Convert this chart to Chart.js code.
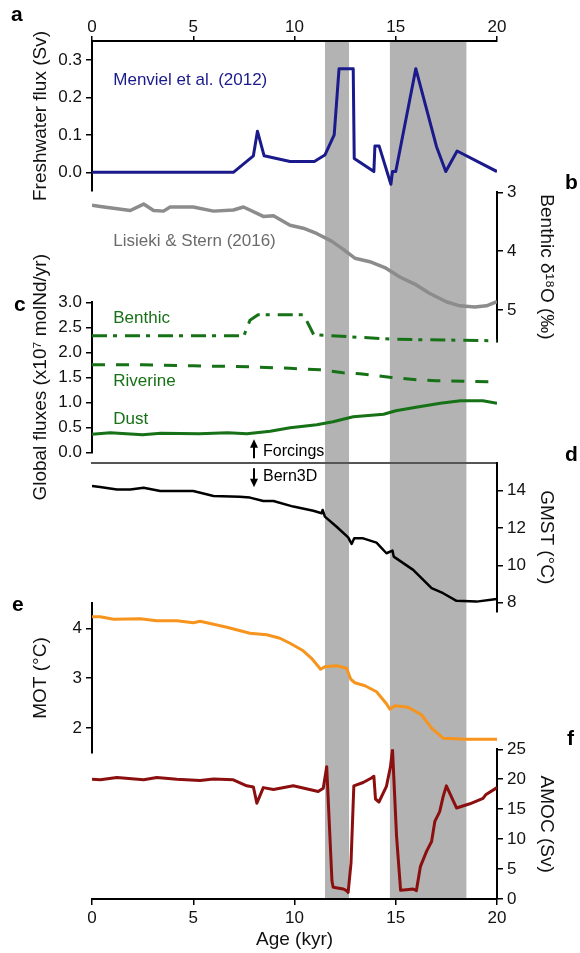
<!DOCTYPE html>
<html>
<head>
<meta charset="utf-8">
<script src="https://cdn.jsdelivr.net/npm/chart.js@4.4.1/dist/chart.umd.min.js"></script>
<style>
html,body{margin:0;padding:0;background:#fff}
#fig{position:relative;width:580px;height:953px;overflow:hidden}
#fig canvas{position:absolute;left:0;top:0}
.tag{position:absolute;font:bold 21px "Liberation Sans",Arial,sans-serif;line-height:21px;color:#000}
</style>
</head>
<body>
<div id="fig">
  <canvas id="bands" width="580" height="953"></canvas>
  <canvas id="pa" width="580" height="953"></canvas>
  <canvas id="pb" width="580" height="953"></canvas>
  <canvas id="pc" width="580" height="953"></canvas>
  <canvas id="pd" width="580" height="953"></canvas>
  <canvas id="pe" width="580" height="953"></canvas>
  <canvas id="pf" width="580" height="953"></canvas>
  <div class="tag" style="left:11px;top:3px">a</div>
  <div class="tag" style="left:565px;top:171px">b</div>
  <div class="tag" style="left:14px;top:293px">c</div>
  <div class="tag" style="left:565px;top:443px">d</div>
  <div class="tag" style="left:12px;top:593px">e</div>
  <div class="tag" style="left:567px;top:727px">f</div>
</div>
<script>
// ---- data (ages in kyr) ----
const ageTicks = [0, 5, 10, 15, 20];
const bandStart = [11.5, 14.7];
const bandEnd = [12.7, 18.5];

// a: freshwater flux, Menviel et al. (2012)
const fwAge = [0, 6.98, 7.97, 8.17, 8.5, 9.78, 10.98, 11.5, 11.96, 12.2, 12.9, 12.95, 13.92, 13.97, 14.18, 14.76, 14.84, 15.0, 15.99, 17.01, 17.47, 18.03, 20];
const fwFlux = [0, 0, 0.044, 0.11, 0.044, 0.029, 0.029, 0.046, 0.1, 0.277, 0.277, 0.037, 0.002, 0.07, 0.07, -0.032, 0.002, 0.002, 0.277, 0.069, 0.002, 0.057, 0.002];
const fwTicks = [0, 0.1, 0.2, 0.3];

// b: benthic d18O, Lisiecki & Stern (2016)
const d18Age = [0, 0.41, 1.89, 2.55, 3.04, 3.53, 3.86, 5.0, 6.0, 6.98, 7.48, 8.46, 8.96, 9.78, 10.43, 11.09, 11.83, 12.41, 12.98, 13.72, 14.46, 15.2, 15.94, 16.68, 17.5, 18.16, 18.9, 19.48, 20];
const d18O = [3.22, 3.24, 3.31, 3.20, 3.31, 3.32, 3.25, 3.25, 3.32, 3.30, 3.25, 3.41, 3.40, 3.56, 3.61, 3.70, 3.83, 3.97, 4.12, 4.18, 4.28, 4.44, 4.56, 4.72, 4.86, 4.93, 4.95, 4.93, 4.86];
const d18Ticks = [3, 4, 5];

// c: global Nd fluxes
const benthicAge = [0, 7.5, 7.8, 8.2, 10.45, 10.7, 10.95, 15, 20];
const benthicFlux = [2.33, 2.33, 2.64, 2.75, 2.75, 2.55, 2.35, 2.26, 2.23];
const riverineAge = [0, 2.5, 5, 7.8, 9.78, 11.26, 12.4, 13.23, 14.7, 16.02, 17.0, 20];
const riverineFlux = [1.75, 1.75, 1.73, 1.71, 1.68, 1.65, 1.59, 1.57, 1.5, 1.45, 1.43, 1.41];
const dustAge = [0, 0.9, 2.5, 3.4, 5.3, 6.7, 7.65, 8.8, 9.78, 11.1, 11.9, 12.9, 14.4, 15.0, 16.0, 17.2, 18.2, 19.3, 20];
const dustFlux = [0.36, 0.39, 0.35, 0.38, 0.37, 0.39, 0.37, 0.42, 0.49, 0.55, 0.61, 0.71, 0.76, 0.83, 0.9, 0.98, 1.03, 1.03, 0.98];
const fluxTicks = [0, 0.5, 1, 1.5, 2, 2.5, 3];

// d: global mean surface temperature
const gmstAge = [0, 0.4, 1.23, 1.89, 2.55, 3.37, 5.0, 6.0, 7.3, 7.8, 8.46, 8.96, 9.94, 10.93, 11.34, 11.39, 11.5, 12.08, 12.65, 12.82, 12.95, 13.39, 14.05, 14.54, 14.84, 14.9, 15.86, 16.77, 17.34, 18.0, 18.99, 19.89, 20];
const gmst = [14.25, 14.2, 14.07, 14.07, 14.16, 13.98, 13.98, 13.72, 13.68, 13.63, 13.45, 13.45, 13.15, 12.93, 12.79, 12.97, 12.61, 12.07, 11.5, 11.15, 11.45, 11.45, 11.22, 10.65, 10.79, 10.47, 9.76, 8.78, 8.51, 8.1, 8.06, 8.19, 8.2];
const gmstTicks = [8, 10, 12, 14];

// e: mean ocean temperature
const motAge = [0, 0.4, 1.07, 2.38, 3.2, 4.19, 5.0, 5.34, 6.66, 7.8, 8.63, 9.28, 9.78, 10.43, 10.84, 11.29, 11.5, 12.08, 12.57, 12.78, 12.98, 13.48, 14.05, 14.54, 14.71, 14.96, 15.61, 16.27, 16.77, 17.34, 18.49, 20];
const mot = [4.23, 4.23, 4.18, 4.19, 4.15, 4.15, 4.11, 4.14, 4.02, 3.9, 3.87, 3.8, 3.7, 3.55, 3.4, 3.18, 3.23, 3.25, 3.2, 2.98, 2.91, 2.85, 2.73, 2.49, 2.38, 2.45, 2.42, 2.27, 2.0, 1.8, 1.78, 1.78];
const motTicks = [2, 3, 4];

// f: AMOC strength
const amocAge = [0, 0.41, 1.23, 2.55, 3.2, 4.19, 5.34, 6.0, 6.98, 7.64, 7.97, 8.14, 8.46, 8.96, 9.94, 11.17, 11.42, 11.59, 11.85, 11.91, 12.41, 12.57, 12.65, 12.79, 12.93, 13.39, 13.8, 13.92, 14.0, 14.17, 14.54, 14.74, 14.84, 15.04, 15.24, 15.53, 15.86, 16.02, 16.22, 16.52, 16.77, 16.93, 17.17, 17.34, 17.5, 18.0, 18.66, 19.31, 19.44, 20];
const amoc = [20.0, 19.9, 20.3, 19.9, 20.3, 20.0, 19.8, 20.05, 19.9, 18.9, 18.7, 16.0, 18.6, 18.3, 18.9, 17.95, 18.5, 22.1, 3.0, 1.95, 1.67, 1.4, 1.1, 6.0, 18.9, 19.45, 20.2, 20.5, 16.7, 16.2, 18.8, 22.1, 24.95, 10.45, 1.45, 1.55, 1.67, 1.4, 5.45, 7.95, 9.6, 12.95, 14.6, 17.1, 18.9, 15.2, 15.9, 16.8, 17.4, 18.6];
const amocTicks = [0, 5, 10, 15, 20, 25];

// ---- drawing ----
const W = 580, H = 953, PL = 92, PR = 497;
const FONT = '"Liberation Sans", Arial, sans-serif';
Chart.defaults.font.family = FONT;
Chart.defaults.color = '#111';

const navy = '#1a1a8c', green = '#177117', grey = '#8c8c8c', orange = '#f7941d', darkred = '#8b0f0f';

function pts(xs, ys){ return xs.map((x, i) => ({x, y: ys[i]})); }
function line(xs, ys, color, width, dash){
  return {data: pts(xs, ys), borderColor: color, borderWidth: width, borderDash: dash || [],
    pointRadius: 0, tension: 0, fill: false, borderJoinStyle: 'round'};
}
function ticksOf(arr){ return s => { s.ticks = arr.map(value => ({value})); }; }

function notes(items){
  return {id: 'notes', afterDatasetsDraw(chart){
    const {ctx, scales: {x, y}} = chart;
    ctx.save();
    ctx.textAlign = 'left'; ctx.textBaseline = 'middle';
    items.forEach(n => {
      ctx.font = (n.size || 17) + 'px ' + FONT;
      ctx.fillStyle = n.color;
      ctx.fillText(n.text, x.getPixelForValue(n.x), y.getPixelForValue(n.y));
    });
    ctx.restore();
  }};
}

function arrow(ctx, x, y0, y1){
  const dir = Math.sign(y1 - y0);
  ctx.beginPath(); ctx.moveTo(x, y0); ctx.lineTo(x, y1 - dir * 7); ctx.stroke();
  ctx.beginPath(); ctx.moveTo(x, y1); ctx.lineTo(x - 4, y1 - dir * 8.5); ctx.lineTo(x + 4, y1 - dir * 8.5); ctx.closePath(); ctx.fill();
}
const forcings = {id: 'forcings', afterDraw(chart){
  const {ctx, chartArea: {top}, scales: {x}} = chart;
  const ax = x.getPixelForValue(8.0);
  ctx.save();
  ctx.strokeStyle = ctx.fillStyle = '#000'; ctx.lineWidth = 2;
  arrow(ctx, ax, top - 4.5, top - 23.5);
  arrow(ctx, ax, top + 5.5, top + 24.5);
  ctx.font = '16px ' + FONT; ctx.textAlign = 'left'; ctx.textBaseline = 'middle';
  ctx.fillText('Forcings', ax + 9, top - 11.5);
  ctx.fillText('Bern3D', ax + 9, top + 13.5);
  ctx.restore();
}};

function xAxis(kind, size){
  const base = {type: 'linear', min: 0, max: 20, bounds: 'data'};
  if (!kind) return {...base, display: false};
  if (kind === 'line') return {...base, position: 'top', afterFit: s => { s.height = 0; },
    ticks: {display: false}, grid: {drawOnChartArea: false, drawTicks: false},
    border: {display: true, color: '#555', width: 2}};
  return {...base, position: kind, afterFit: s => { s.height = size; }, afterBuildTicks: ticksOf(ageTicks),
    ticks: {font: {size: 17}, color: '#111', padding: kind === 'top' ? -2 : 3, maxRotation: 0, autoSkip: false},
    grid: {drawOnChartArea: false, tickLength: kind === 'top' ? 5 : 6, color: '#000', lineWidth: 1.5},
    border: {display: true, color: '#000', width: 2},
    title: {display: kind === 'bottom', text: 'Age (kyr)', font: {size: 19}, color: '#111', padding: {top: 0, bottom: 2}}};
}

function panel(id, p){
  const left = p.side === 'left';
  const padTop = p.xAxis === 'top' ? 0 : p.top;
  const padBottom = p.xAxis === 'bottom' ? 0 : H - p.bottom;
  return new Chart(document.getElementById(id), {
    type: 'line',
    data: {datasets: p.datasets},
    options: {
      responsive: false, animation: false, events: [],
      layout: {padding: {left: left ? 0 : PL, right: left ? W - PR : 0, top: padTop, bottom: padBottom}},
      plugins: {legend: {display: false}, tooltip: {enabled: false}},
      scales: {
        x: xAxis(p.xAxis, p.xAxis === 'top' ? p.top : H - p.bottom),
        y: {type: 'linear', position: p.side, min: p.min, max: p.max, reverse: !!p.reverse, bounds: 'data',
          afterFit: s => { s.width = left ? PL : W - PR; },
          afterBuildTicks: ticksOf(p.ticks),
          ticks: {font: {size: 17}, color: '#111', padding: 4, callback: p.fmt || (v => v)},
          grid: {drawOnChartArea: false, tickLength: 6, color: '#000', lineWidth: 1.5},
          border: {display: true, color: '#000', width: 2},
          title: {display: true, text: p.title, font: {size: 19}, color: '#111', padding: {top: left ? 29 : 22, bottom: 0}}}
      }
    },
    plugins: [notes(p.notes || [])].concat(p.extra || [])
  });
}

// grey event bands behind everything
new Chart(document.getElementById('bands'), {
  type: 'line',
  data: {datasets: bandStart.map((s, i) => ({data: pts([s, bandEnd[i]], [1, 1]), fill: 'start',
    backgroundColor: '#b3b3b3', borderColor: '#b3b3b3', borderWidth: 0, pointRadius: 0}))},
  options: {responsive: false, animation: false, events: [],
    layout: {padding: {left: PL, right: W - PR, top: 41, bottom: H - 899}},
    plugins: {legend: {display: false}, tooltip: {enabled: false}},
    scales: {x: {type: 'linear', min: 0, max: 20, display: false}, y: {min: 0, max: 1, display: false}}}
});

const f1 = v => v.toFixed(1);

panel('pa', {side: 'left', top: 41, bottom: 191, min: -0.05, max: 0.351, ticks: fwTicks, fmt: f1, xAxis: 'top',
  title: 'Freshwater flux (Sv)',
  datasets: [line(fwAge, fwFlux, navy, 3)],
  notes: [{text: 'Menviel et al. (2012)', x: 1.05, y: 0.2465, color: navy}]});

panel('pb', {side: 'right', top: 192.3, bottom: 341.7, min: 3, max: 5.54, reverse: true, ticks: d18Ticks,
  title: 'Benthic δ¹⁸O (‰)',
  datasets: [line(d18Age, d18O, grey, 3.5)],
  notes: [{text: 'Lisieki & Stern (2016)', x: 1.05, y: 3.84, color: '#6b6b6b'}]});

panel('pc', {side: 'left', top: 302.3, bottom: 452.3, min: 0, max: 3, ticks: fluxTicks, fmt: f1,
  title: 'Global fluxes (x10⁷ molNd/yr)',
  datasets: [line(benthicAge, benthicFlux, green, 3, [15, 6, 4, 8]),
             line(riverineAge, riverineFlux, green, 3, [13, 11]),
             line(dustAge, dustFlux, green, 3)],
  notes: [{text: 'Benthic', x: 1.05, y: 2.67, color: green},
          {text: 'Riverine', x: 1.05, y: 1.41, color: green},
          {text: 'Dust', x: 1.05, y: 0.66, color: green}]});

panel('pd', {side: 'right', top: 462.7, bottom: 611.7, min: 7.52, max: 15.5, ticks: gmstTicks, xAxis: 'line',
  title: 'GMST (°C)',
  datasets: [line(gmstAge, gmst, '#000', 2.5)],
  extra: [forcings]});

panel('pe', {side: 'left', top: 603.3, bottom: 752.7, min: 1.51, max: 4.5, ticks: motTicks,
  title: 'MOT (°C)',
  datasets: [line(motAge, mot, orange, 3)]});

panel('pf', {side: 'right', top: 749.3, bottom: 899, min: 0, max: 25, ticks: amocTicks, xAxis: 'bottom',
  title: 'AMOC (Sv)',
  datasets: [line(amocAge, amoc, darkred, 3)]});
</script>
</body>
</html>
